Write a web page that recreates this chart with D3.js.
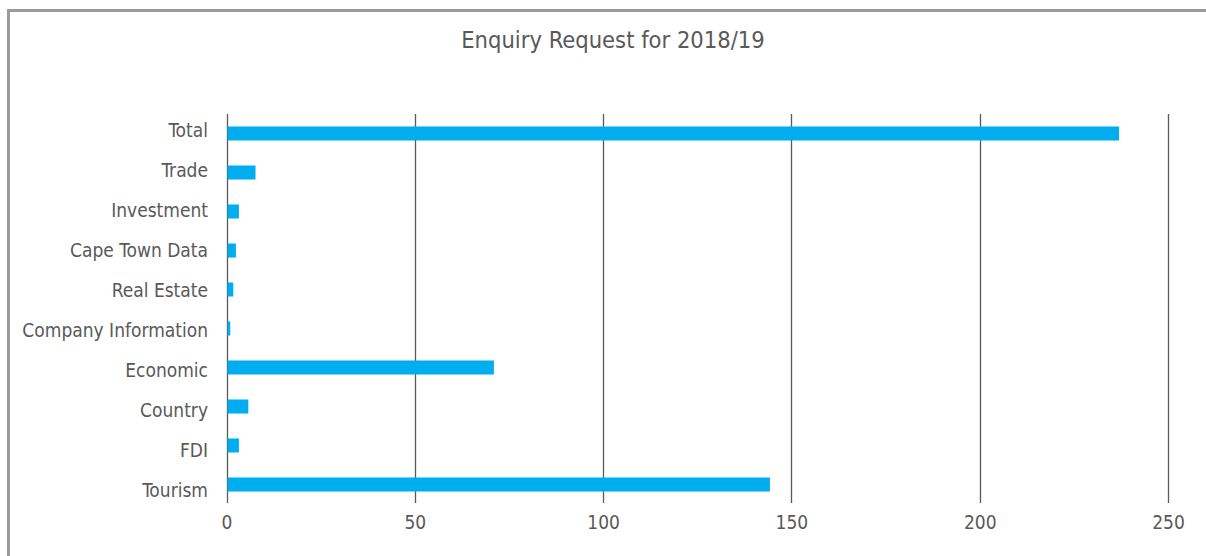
<!DOCTYPE html>
<html>
<head>
<meta charset="utf-8">
<script src="https://cdn.jsdelivr.net/npm/d3@7"></script>
<style>
  body { margin: 0; background: #fff; }
  svg text { font-family: "DejaVu Sans Condensed", "Liberation Sans Narrow", Roboto, sans-serif; font-stretch: condensed; fill: #595959; }
</style>
</head>
<body>
<svg id="chart" width="1206" height="556"></svg>
<script>
// enquiry counts
var categories = ["Total", "Trade", "Investment", "Cape Town Data", "Real Estate",
    "Company Information", "Economic", "Country", "FDI", "Tourism"];
var requests = [237, 7.7, 3.3, 2.5, 1.8, 1, 71, 5.8, 3.3, 144.3];
var xTicks = [0, 50, 100, 150, 200, 250];

var svg = d3.select("#chart");

// frame round the chart (right and bottom edges run off the page)
svg.append("rect")
    .attr("x", 8.5)
    .attr("y", 10.5)
    .attr("width", 1220)
    .attr("height", 580)
    .attr("fill", "none")
    .attr("stroke", "#9a9a9a")
    .attr("stroke-width", 3);

svg.append("text")
    .attr("x", 613)
    .attr("y", 48)
    .attr("text-anchor", "middle")
    .style("font-size", "23.5px")
    .text("Enquiry Request for 2018/19");

var x = d3.scaleLinear()
    .domain([0, 250])
    .range([226.5, 1168]);

var y = d3.scaleBand()
    .domain(categories)
    .range([114, 504])
    .paddingInner(0.64)
    .paddingOuter(0.32);

// category labels sit on a slightly wider spacing than the bars
var yLabel = d3.scalePoint()
    .domain(categories)
    .range([130, 490]);

// vertical gridlines
svg.append("g")
    .selectAll("line")
    .data(xTicks)
    .enter().append("line")
    .attr("x1", function(d) { return Math.round(x(d)) + 0.5; })
    .attr("x2", function(d) { return Math.round(x(d)) + 0.5; })
    .attr("y1", 114)
    .attr("y2", 503)
    .attr("stroke", "#595959")
    .attr("stroke-width", 1.3);

svg.append("g")
    .selectAll("rect")
    .data(categories)
    .enter().append("rect")
    .attr("x", x(0) + 1)
    .attr("y", function(d) { return y(d); })
    .attr("width", function(d, i) { return x(requests[i]) - x(0) - 1; })
    .attr("height", y.bandwidth())
    .attr("fill", "#00aeef");

var yAxis = svg.append("g")
    .attr("transform", "translate(208,0)")
    .call(d3.axisLeft(yLabel).tickSize(0).tickPadding(0));
yAxis.select(".domain").remove();
yAxis.selectAll("text")
    .attr("dy", "0.36em")
    .style("font-size", "19px")
    .attr("fill", "#595959");

var xAxis = svg.append("g")
    .attr("transform", "translate(0,514)")
    .call(d3.axisBottom(x).tickValues(xTicks).tickSize(0).tickPadding(0));
xAxis.select(".domain").remove();
xAxis.selectAll("text")
    .attr("dy", "0.8em")
    .style("font-size", "19px")
    .attr("fill", "#595959");
xAxis.attr("font-family", null);
yAxis.attr("font-family", null);
</script>
</body>
</html>
